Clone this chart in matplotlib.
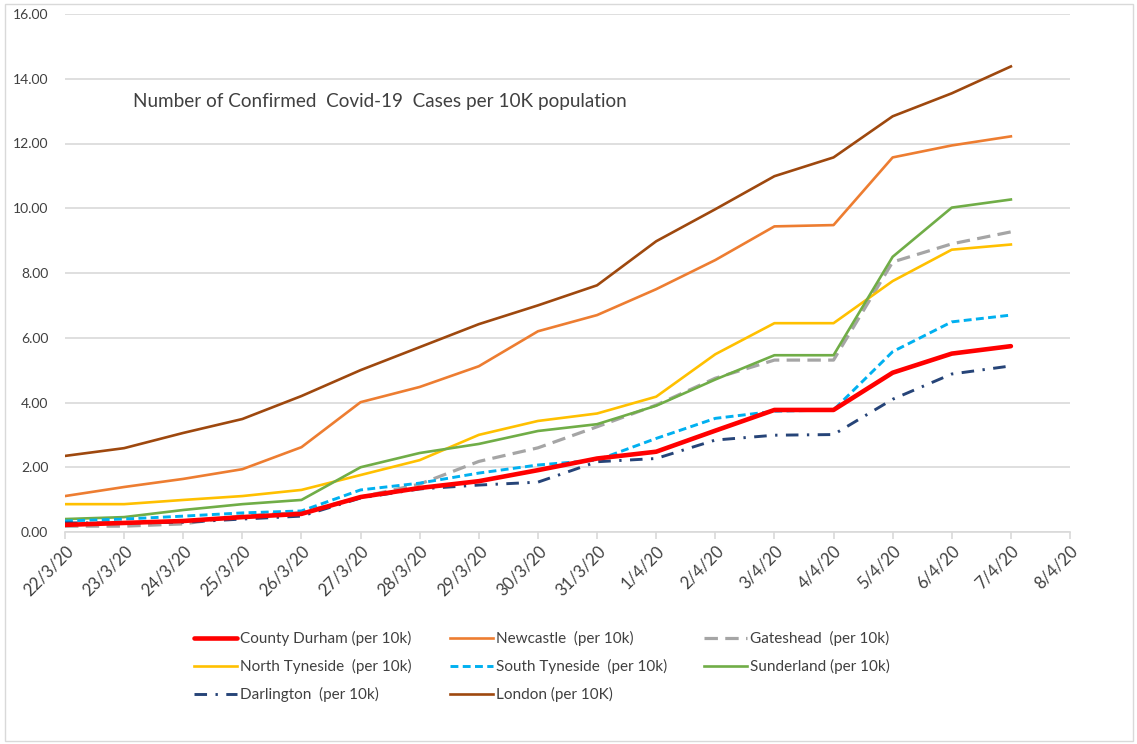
import matplotlib
matplotlib.use("Agg")
import matplotlib.pyplot as plt
from matplotlib.patches import Rectangle

plt.rcParams['font.family'] = ['Lato', 'DejaVu Sans']

dates = ['22/3/20', '23/3/20', '24/3/20', '25/3/20', '26/3/20', '27/3/20', '28/3/20',
         '29/3/20', '30/3/20', '31/3/20', '1/4/20', '2/4/20', '3/4/20', '4/4/20',
         '5/4/20', '6/4/20', '7/4/20', '8/4/20']

county_durham = [0.22, 0.28, 0.34, 0.46, 0.56, 1.08, 1.36, 1.57, 1.91, 2.27, 2.48, 3.13, 3.77, 3.77, 4.92, 5.51, 5.74]
newcastle = [1.11, 1.39, 1.64, 1.94, 2.62, 4.01, 4.48, 5.12, 6.20, 6.70, 7.50, 8.40, 9.44, 9.48, 11.57, 11.94, 12.22]
gateshead = [0.18, 0.18, 0.25, 0.50, 0.60, 1.08, 1.48, 2.18, 2.60, 3.25, 3.92, 4.75, 5.31, 5.31, 8.34, 8.90, 9.27]
north_tyneside = [0.86, 0.86, 0.99, 1.11, 1.30, 1.76, 2.22, 3.00, 3.43, 3.66, 4.18, 5.49, 6.45, 6.45, 7.75, 8.72, 8.88]
south_tyneside = [0.34, 0.40, 0.49, 0.59, 0.65, 1.30, 1.51, 1.82, 2.07, 2.22, 2.89, 3.51, 3.73, 3.77, 5.57, 6.49, 6.70]
sunderland = [0.40, 0.46, 0.68, 0.86, 0.99, 2.00, 2.44, 2.72, 3.12, 3.33, 3.90, 4.71, 5.46, 5.46, 8.50, 10.02, 10.27]
darlington = [0.28, 0.28, 0.30, 0.40, 0.49, 1.05, 1.33, 1.45, 1.54, 2.17, 2.27, 2.84, 2.99, 3.01, 4.10, 4.88, 5.13]
london = [2.35, 2.59, 3.06, 3.49, 4.20, 5.00, 5.71, 6.42, 7.00, 7.62, 8.98, 9.97, 10.99, 11.57, 12.84, 13.55, 14.38]

W, H = 1137, 744
fig = plt.figure(figsize=(W / 100, H / 100), dpi=100)
fig.patches.append(Rectangle((5 / W, 3 / H), 1128 / W, 737 / H, transform=fig.transFigure,
                             fill=False, edgecolor='#D9D9D9', linewidth=1.0))
ax = fig.add_axes([65 / W, 1 - 532 / H, 1005 / W, 518 / H])

x = list(range(len(county_durham)))
lines = {}
lines['cd'], = ax.plot(x, county_durham, color='#FF0000', lw=3.3, solid_capstyle='round', zorder=5,
                       label='County Durham (per 10k)')
lines['new'], = ax.plot(x, newcastle, color='#ED7D31', lw=1.9, label='Newcastle  (per 10k)')
lines['gat'], = ax.plot(x, gateshead, color='#A5A5A5', lw=2.3, dashes=(4.2, 2.3), label='Gateshead  (per 10k)')
lines['nt'], = ax.plot(x, north_tyneside, color='#FFC000', lw=1.9, label='North Tyneside  (per 10k)')
lines['st'], = ax.plot(x, south_tyneside, color='#00B0F0', lw=2.1, dashes=(2.7, 1.5), zorder=4,
                       label='South Tyneside  (per 10k)')
lines['sun'], = ax.plot(x, sunderland, color='#70AD47', lw=1.9, label='Sunderland (per 10k)')
lines['dar'], = ax.plot(x, darlington, color='#264478', lw=2.1, dashes=(4.3, 2.9, 0.8, 2.9), zorder=4,
                        label='Darlington  (per 10k)')
lines['lon'], = ax.plot(x, london, color='#9E480E', lw=1.9, label='London (per 10K)')

ax.set_xlim(0, len(dates) - 1)
ax.set_ylim(0, 16)
ax.set_xticks(range(len(dates)))
ax.set_xticklabels(dates, rotation=45, ha='right', rotation_mode='anchor', fontsize=12, color='#404040')
ax.set_yticks(range(0, 17, 2))
ax.set_yticklabels([f'{v:.2f}' for v in range(0, 17, 2)], fontsize=10, color='#404040')
ax.tick_params(axis='y', length=0, pad=12)
ax.tick_params(axis='x', length=5, color='#D9D9D9', width=1.2, pad=3)
ax.grid(axis='y', color='#D9D9D9', lw=1.2)
ax.set_axisbelow(True)
for side in ['top', 'right', 'left']:
    ax.spines[side].set_visible(False)
ax.spines['bottom'].set_color('#D9D9D9')
ax.spines['bottom'].set_linewidth(1.2)

fig.text(133 / W, 1 - 101 / H, 'Number of Confirmed  Covid-19  Cases per 10K population',
         fontsize=13.6, color='#404040', va='center')

columns = [
    (['cd', 'nt', 'dar'], 194),
    (['new', 'st', 'lon'], 450),
    (['gat', 'sun'], 704),
]
for keys, xpix in columns:
    fig.legend([lines[k] for k in keys], [lines[k].get_label() for k in keys],
               loc='upper left', bbox_to_anchor=(xpix / W, 1 - 631 / H),
               frameon=False, fontsize=11, handlelength=2.8, handletextpad=0.2,
               labelspacing=0.85, borderpad=0, borderaxespad=0, labelcolor='#404040')

fig.savefig('out.png', dpi=100)
